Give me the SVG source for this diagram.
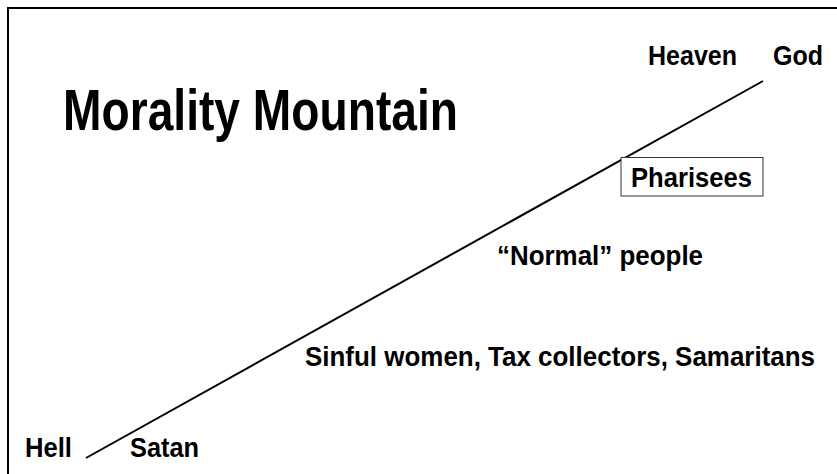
<svg xmlns="http://www.w3.org/2000/svg" width="837" height="474" viewBox="0 0 837 474">
<style>
text{font-family:"Liberation Sans","DejaVu Sans",sans-serif;font-weight:bold;fill:#000}
.lbl{font-size:28px}
</style>
<rect x="0" y="0" width="837" height="474" fill="#fff"/>
<g id="frame"><path d="M8,474 V8 H837" fill="none" stroke="#000" stroke-width="2"/></g>
<g id="title"><text x="63" y="130" font-size="57" textLength="395" lengthAdjust="spacingAndGlyphs">Morality Mountain</text></g>
<g id="connectors"><line x1="86" y1="458" x2="763" y2="81" stroke="#000" stroke-width="2"/></g>
<g id="heaven"><text class="lbl" x="648" y="65" textLength="89" lengthAdjust="spacingAndGlyphs">Heaven</text></g>
<g id="god"><text class="lbl" x="773" y="65" textLength="50" lengthAdjust="spacingAndGlyphs">God</text></g>
<g id="pharisees"><rect x="621" y="157.5" width="142" height="38.5" fill="#fff" stroke="#333" stroke-width="1"/><text class="lbl" x="631" y="187" textLength="121" lengthAdjust="spacingAndGlyphs">Pharisees</text></g>
<g id="normal"><text class="lbl" x="497" y="265" textLength="206" lengthAdjust="spacingAndGlyphs">“Normal” people</text></g>
<g id="sinful"><text class="lbl" x="305" y="366" textLength="510" lengthAdjust="spacingAndGlyphs">Sinful women, Tax collectors, Samaritans</text></g>
<g id="hell"><text class="lbl" x="25" y="457" textLength="47" lengthAdjust="spacingAndGlyphs">Hell</text></g>
<g id="satan"><text class="lbl" x="130" y="457" textLength="69" lengthAdjust="spacingAndGlyphs">Satan</text></g>
</svg>
